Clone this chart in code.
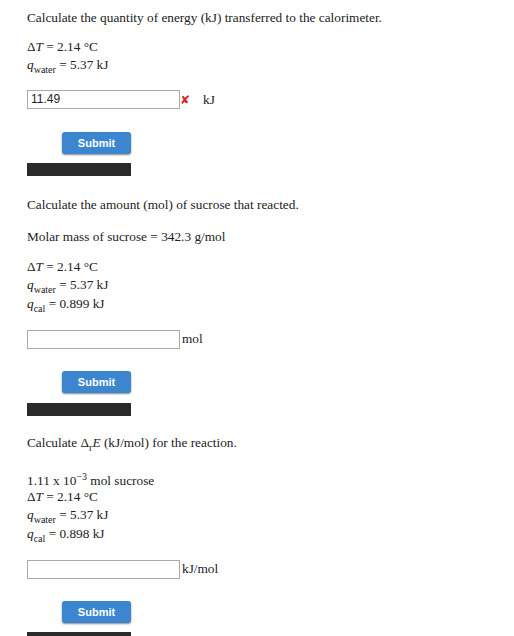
<!DOCTYPE html><html><head><meta charset="utf-8">
<script src="https://cdn.jsdelivr.net/npm/chart.js"></script>
<style>
body{margin:0;width:514px;height:636px;background:#fff;font-family:"Liberation Serif","Times New Roman",serif;font-size:13.3px;color:#222;position:relative;overflow:hidden}
.t{position:absolute;left:27px;white-space:nowrap;line-height:16px}
.in{position:absolute;left:27px;width:148px;height:17px;border:1px solid #aaa;font-family:"Liberation Sans",Arial,sans-serif;font-size:12px;line-height:17px;padding-left:3px;box-sizing:content-box}
.btn{position:absolute;left:62px;width:69px;height:22px;background:#3b86cf;border-radius:3px;color:#fff;font-family:"Liberation Sans",Arial,sans-serif;font-weight:bold;font-size:11px;text-align:center;line-height:22px;box-shadow:0 1px 2px #888}
.bar{position:absolute;left:27px;width:104px;height:13px;background:#2a2a2a}
i{font-style:italic}
sub,sup{font-size:10px;line-height:0}
</style></head><body>
<div class="t" style="top:10px">Calculate the quantity of energy (kJ) transferred to the calorimeter.</div>
<div class="t" style="top:39px">Δ<i>T</i> = 2.14 °C</div>
<div class="t" style="top:57px"><i>q</i><sub>water</sub> = 5.37 kJ</div>
<div class="in" style="top:90px">11.49</div>
<div class="t" style="left:180px;top:92px;color:#d22;font-family:'DejaVu Sans';font-weight:bold;font-size:12px">✘</div>
<div class="t" style="left:203px;top:92px">kJ</div>
<div class="btn" style="top:132px">Submit</div>
<div class="bar" style="top:163px"></div>

<div class="t" style="top:197px">Calculate the amount (mol) of sucrose that reacted.</div>
<div class="t" style="top:229px">Molar mass of sucrose = 342.3 g/mol</div>
<div class="t" style="top:259px">Δ<i>T</i> = 2.14 °C</div>
<div class="t" style="top:277px"><i>q</i><sub>water</sub> = 5.37 kJ</div>
<div class="t" style="top:296px"><i>q</i><sub>cal</sub> = 0.899 kJ</div>
<div class="in" style="top:330px"></div>
<div class="t" style="left:182px;top:331px">mol</div>
<div class="btn" style="top:371px">Submit</div>
<div class="bar" style="top:403px"></div>

<div class="t" style="top:435px">Calculate Δ<sub>r</sub><i>E</i> (kJ/mol) for the reaction.</div>
<div class="t" style="top:473px">1.11 x 10<sup>−3</sup> mol sucrose</div>
<div class="t" style="top:489px">Δ<i>T</i> = 2.14 °C</div>
<div class="t" style="top:507px"><i>q</i><sub>water</sub> = 5.37 kJ</div>
<div class="t" style="top:526px"><i>q</i><sub>cal</sub> = 0.898 kJ</div>
<div class="in" style="top:560px"></div>
<div class="t" style="left:182px;top:561px">kJ/mol</div>
<div class="btn" style="top:601px">Submit</div>
<div class="bar" style="top:632px"></div>
</body></html>
